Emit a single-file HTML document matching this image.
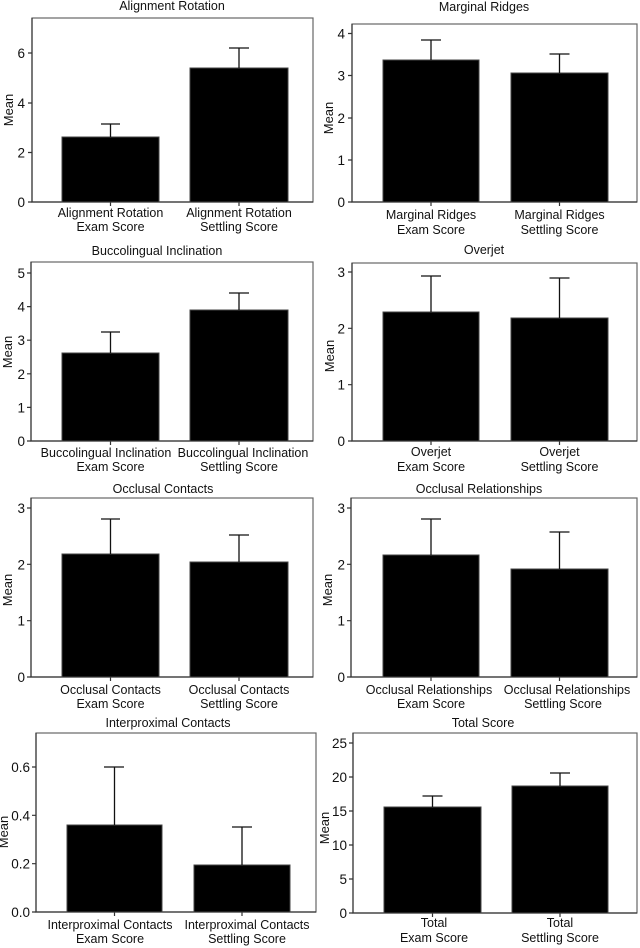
<!DOCTYPE html>
<html><head><meta charset="utf-8"><style>
html,body{margin:0;padding:0;background:#fff;width:640px;height:948px;overflow:hidden}
svg{display:block}
text{font-family:"Liberation Sans",Arial,sans-serif;fill:#111}
.t{font-size:12.5px;text-anchor:middle}
.y{font-size:13.5px;text-anchor:end}
.x{font-size:12.5px;text-anchor:middle}
.m{font-size:13px;text-anchor:middle}
.f{fill:none;stroke:#666;stroke-width:1.2}
.a{stroke:#333;stroke-width:1.2;fill:none}
.b{fill:#000;stroke:#444;stroke-width:1}
.e{stroke:#111;stroke-width:1.3;fill:none}
</style></head><body>
<svg width="640" height="948" viewBox="0 0 640 948" xmlns="http://www.w3.org/2000/svg">

<g>
<text class="t" x="172" y="10">Alignment Rotation</text>
<rect class="f" x="32" y="18" width="281" height="184"/>
<path class="a" d="M32 18V202H313"/>
<path class="a" d="M28 202H32M28 152.5H32M28 103H32M28 53H32M110.5 202v4M239 202v4"/>
<text class="y" x="25" y="207">0</text><text class="y" x="25" y="157.5">2</text><text class="y" x="25" y="108">4</text><text class="y" x="25" y="58">6</text>
<text class="m" transform="translate(13,110) rotate(-90)">Mean</text>
<rect class="b" x="62" y="137" width="97" height="65"/>
<rect class="b" x="190" y="68" width="98" height="134"/>
<path class="e" d="M110.5 137V124M101 124H120M239 68V48M229 48H249"/>
<text class="x" x="110.5" y="217">Alignment Rotation</text><text class="x" x="110.5" y="231">Exam Score</text>
<text class="x" x="239" y="217">Alignment Rotation</text><text class="x" x="239" y="231">Settling Score</text>
</g>

<g>
<text class="t" x="484" y="11">Marginal Ridges</text>
<rect class="f" x="352" y="24" width="285" height="178"/>
<path class="a" d="M352 24V202H637"/>
<path class="a" d="M348 202H352M348 160H352M348 118H352M348 75.5H352M348 33.5H352M431 202v4M559.5 202v4"/>
<text class="y" x="345" y="207">0</text><text class="y" x="345" y="165">1</text><text class="y" x="345" y="123">2</text><text class="y" x="345" y="80.5">3</text><text class="y" x="345" y="38.5">4</text>
<text class="m" transform="translate(333,118) rotate(-90)">Mean</text>
<rect class="b" x="383" y="60" width="96" height="142"/>
<rect class="b" x="511" y="73" width="97" height="129"/>
<path class="e" d="M431 60V40M421 40H441M559.5 73V54M549.5 54H569.5"/>
<text class="x" x="431" y="219">Marginal Ridges</text><text class="x" x="431" y="234">Exam Score</text>
<text class="x" x="559.5" y="219">Marginal Ridges</text><text class="x" x="559.5" y="234">Settling Score</text>
</g>

<g>
<text class="t" x="157" y="255">Buccolingual Inclination</text>
<rect class="f" x="31" y="262" width="282" height="179"/>
<path class="a" d="M31 262V441H313"/>
<path class="a" d="M27 441H31M27 407.4H31M27 373.8H31M27 340.2H31M27 306.6H31M27 273H31M110.5 441v4M239 441v4"/>
<text class="y" x="25" y="446">0</text><text class="y" x="25" y="412.4">1</text><text class="y" x="25" y="378.8">2</text><text class="y" x="25" y="345.2">3</text><text class="y" x="25" y="311.6">4</text><text class="y" x="25" y="278">5</text>
<text class="m" transform="translate(12,352) rotate(-90)">Mean</text>
<rect class="b" x="62" y="353" width="97" height="88"/>
<rect class="b" x="190" y="310" width="98" height="131"/>
<path class="e" d="M110.5 353V332M101 332H120M239 310V293M229 293H249"/>
<text class="x" x="106" y="457">Buccolingual Inclination</text><text class="x" x="110.5" y="471">Exam Score</text>
<text class="x" x="243" y="457">Buccolingual Inclination</text><text class="x" x="239" y="471">Settling Score</text>
</g>

<g>
<text class="t" x="484" y="254">Overjet</text>
<rect class="f" x="352" y="263" width="285" height="178"/>
<path class="a" d="M352 263V441H637"/>
<path class="a" d="M348 441H352M348 384.7H352M348 328.3H352M348 272H352M431 441v4M559.5 441v4"/>
<text class="y" x="345" y="446">0</text><text class="y" x="345" y="389.7">1</text><text class="y" x="345" y="333.3">2</text><text class="y" x="345" y="277">3</text>
<text class="m" transform="translate(334,356) rotate(-90)">Mean</text>
<rect class="b" x="383" y="312" width="96" height="129"/>
<rect class="b" x="511" y="318" width="97" height="123"/>
<path class="e" d="M431 312V276M421 276H441M559.5 318V278M549.5 278H569.5"/>
<text class="x" x="431" y="456">Overjet</text><text class="x" x="431" y="471">Exam Score</text>
<text class="x" x="559.5" y="456">Overjet</text><text class="x" x="559.5" y="471">Settling Score</text>
</g>

<g>
<text class="t" x="163" y="493">Occlusal Contacts</text>
<rect class="f" x="31" y="498" width="282" height="179"/>
<path class="a" d="M31 498V677H313"/>
<path class="a" d="M27 677H31M27 620.7H31M27 564.3H31M27 508H31M110.5 677v4M239 677v4"/>
<text class="y" x="25" y="682">0</text><text class="y" x="25" y="625.7">1</text><text class="y" x="25" y="569.3">2</text><text class="y" x="25" y="513">3</text>
<text class="m" transform="translate(12,590) rotate(-90)">Mean</text>
<rect class="b" x="62" y="554" width="97" height="123"/>
<rect class="b" x="190" y="562" width="98" height="115"/>
<path class="e" d="M110.5 554V519M101 519H120M239 562V535M229 535H249"/>
<text class="x" x="110.5" y="694">Occlusal Contacts</text><text class="x" x="110.5" y="708">Exam Score</text>
<text class="x" x="239" y="694">Occlusal Contacts</text><text class="x" x="239" y="708">Settling Score</text>
</g>

<g>
<text class="t" x="479" y="493">Occlusal Relationships</text>
<rect class="f" x="351" y="498" width="286" height="179"/>
<path class="a" d="M351 498V677H637"/>
<path class="a" d="M347 677H351M347 620.7H351M347 564.3H351M347 508H351M431 677v4M559.5 677v4"/>
<text class="y" x="345" y="682">0</text><text class="y" x="345" y="625.7">1</text><text class="y" x="345" y="569.3">2</text><text class="y" x="345" y="513">3</text>
<text class="m" transform="translate(332,590) rotate(-90)">Mean</text>
<rect class="b" x="383" y="555" width="96" height="122"/>
<rect class="b" x="511" y="569" width="97" height="108"/>
<path class="e" d="M431 555V519M421 519H441M559.5 569V532M549.5 532H569.5"/>
<text class="x" x="429" y="694">Occlusal Relationships</text><text class="x" x="431" y="708">Exam Score</text>
<text class="x" x="567" y="694">Occlusal Relationships</text><text class="x" x="563" y="708">Settling Score</text>
</g>

<g>
<text class="t" x="168" y="727">Interproximal Contacts</text>
<rect class="f" x="36" y="733" width="280" height="179"/>
<path class="a" d="M36 733V912H316"/>
<path class="a" d="M32 912H36M32 863.7H36M32 815.3H36M32 767H36M114.5 912v4M242 912v4"/>
<text class="y" x="30" y="917">0.0</text><text class="y" x="30" y="868.7">0.2</text><text class="y" x="30" y="820.3">0.4</text><text class="y" x="30" y="772">0.6</text>
<text class="m" transform="translate(8,832) rotate(-90)">Mean</text>
<rect class="b" x="67" y="825" width="95" height="87"/>
<rect class="b" x="194" y="865" width="96" height="47"/>
<path class="e" d="M114.5 825V767M104 767H124M242 865V827M232 827H252"/>
<text class="x" x="110" y="929">Interproximal Contacts</text><text class="x" x="110" y="943">Exam Score</text>
<text class="x" x="247" y="929">Interproximal Contacts</text><text class="x" x="247" y="943">Settling Score</text>
</g>

<g>
<text class="t" x="483" y="727">Total Score</text>
<rect class="f" x="353" y="733" width="284" height="180"/>
<path class="a" d="M353 733V913H637"/>
<path class="a" d="M349 913H353M349 879H353M349 845H353M349 811H353M349 777H353M349 743H353M432.5 913v4M560 913v4"/>
<text class="y" x="347" y="918">0</text><text class="y" x="347" y="884">5</text><text class="y" x="347" y="850">10</text><text class="y" x="347" y="816">15</text><text class="y" x="347" y="782">20</text><text class="y" x="347" y="748">25</text>
<text class="m" transform="translate(329,828) rotate(-90)">Mean</text>
<rect class="b" x="384" y="807" width="97" height="106"/>
<rect class="b" x="512" y="786" width="96" height="127"/>
<path class="e" d="M432.5 807V796M422.5 796H442.5M560 786V773M550 773H570"/>
<text class="x" x="434" y="927">Total</text><text class="x" x="434" y="942">Exam Score</text>
<text class="x" x="560" y="927">Total</text><text class="x" x="560" y="942">Settling Score</text>
</g>
</svg>
</body></html>
